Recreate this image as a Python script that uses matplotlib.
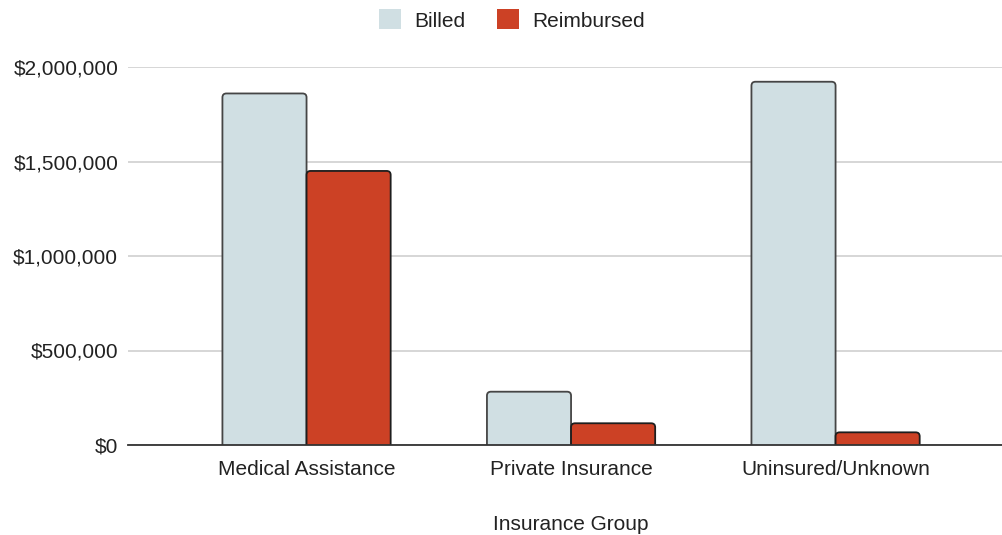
import matplotlib
matplotlib.use("Agg")
import matplotlib.pyplot as plt
import numpy as np
from matplotlib.ticker import FuncFormatter
from matplotlib.patches import Patch, FancyBboxPatch

plt.rcParams['font.family'] = ['Liberation Sans', 'DejaVu Sans']

categories = ["Medical Assistance", "Private Insurance", "Uninsured/Unknown"]
billed = [1860000, 282000, 1922000]
reimbursed = [1450000, 115000, 67000]
yticks = [0, 500000, 1000000, 1500000, 2000000]

W, H = 1003, 535
fig = plt.figure(figsize=(W/100, H/100), dpi=100)
ax_px = (128, 67, W, 445)
ax = fig.add_axes([ax_px[0]/W, 1-ax_px[3]/H, (ax_px[2]-ax_px[0])/W, (ax_px[3]-ax_px[1])/H])

xlim = (-0.675, 2.633)
ylim = (0, 2000000)
ax.set_xlim(*xlim)
ax.set_ylim(*ylim)
xpp = (xlim[1]-xlim[0])/(ax_px[2]-ax_px[0])
ypp = (ylim[1]-ylim[0])/(ax_px[3]-ax_px[1])
aspect = ypp/xpp
r = 4*xpp

x = np.arange(len(categories))
bw = 0.318
c_b = "#D0DFE3"
c_r = "#CC4125"

def rbar(xc, h, color, ec):
    p = FancyBboxPatch((xc - bw/2, -6*ypp), bw, h + 6*ypp,
                       boxstyle=f"round,pad=0,rounding_size={r}",
                       mutation_aspect=aspect, facecolor=color, edgecolor=ec,
                       linewidth=1.3, zorder=3)
    ax.add_patch(p)

for xi, v in zip(x, billed):
    rbar(xi - bw/2, v, c_b, "#454545")
for xi, v in zip(x, reimbursed):
    rbar(xi + bw/2, v, c_r, "#1e1e1e")

ax.set_yticks(yticks)
ax.yaxis.set_major_formatter(FuncFormatter(lambda v, p: "${:,.0f}".format(v)))
ax.set_xticks(x)
ax.set_xticklabels(categories)
ax.tick_params(axis='both', length=0, labelsize=15, colors="#222222")
ax.tick_params(axis='y', pad=7)
ax.tick_params(axis='x', pad=11)
ax.grid(axis='y', color="#D0D0D0", linewidth=1.2, zorder=0)
for s in ["top", "right", "left"]:
    ax.spines[s].set_visible(False)
ax.spines["bottom"].set_color("#333333")
ax.spines["bottom"].set_linewidth(1.3)
ax.spines["bottom"].set_zorder(4)

fig.text(571/W, 1-524/H, "Insurance Group", fontsize=15, color="#222222",
         ha="center", va="center")

handles = [Patch(facecolor=c_b, edgecolor="none", label="Billed"),
           Patch(facecolor=c_r, edgecolor="none", label="Reimbursed")]
fig.legend(handles=handles, loc="center", bbox_to_anchor=(512/W, 1-20/H), ncol=2,
           frameon=False, fontsize=15, handlelength=1.05, handleheight=1.1,
           handletextpad=0.65, columnspacing=1.5, labelcolor="#222222")

fig.savefig("out.png", dpi=100)
